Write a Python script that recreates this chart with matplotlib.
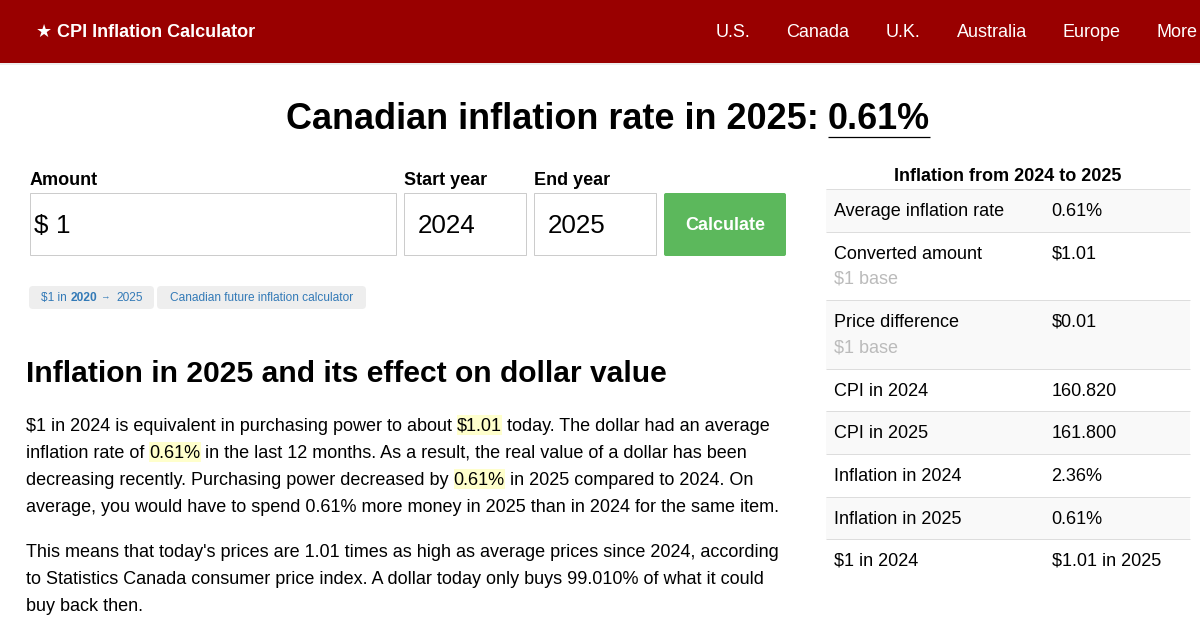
import matplotlib
matplotlib.use("Agg")
import matplotlib.pyplot as plt
from matplotlib.patches import Rectangle, FancyBboxPatch

plt.rcParams["font.family"] = ["Liberation Sans", "DejaVu Sans"]

# Page content
nav_items = ["U.S.", "Canada", "U.K.", "Australia", "Europe", "More"]
nav_x = [716, 786.6, 886, 957, 1063, 1157]

table_labels = ["Average inflation rate", "Converted amount", "Price difference", "CPI in 2024",
                "CPI in 2025", "Inflation in 2024", "Inflation in 2025", "$1 in 2024"]
table_values = ["0.61%", "$1.01", "$0.01", "160.820", "161.800", "2.36%", "0.61%", "$1.01 in 2025"]
table_notes = ["", "$1 base", "$1 base", "", "", "", "", ""]
note_y = [0, 278, 347, 0, 0, 0, 0, 0]
row_edges = [189, 232, 300, 369, 411, 454, 497, 539, 582]

# (text, highlighted) runs per line
para1 = [
    [("$1 in 2024 is equivalent in purchasing power to about ", False), ("$1.01", True), (" today. The dollar had an average", False)],
    [("inflation rate of ", False), ("0.61%", True), (" in the last 12 months. As a result, the real value of a dollar has been", False)],
    [("decreasing recently. Purchasing power decreased by ", False), ("0.61%", True), (" in 2025 compared to 2024. On", False)],
    [("average, you would have to spend 0.61% more money in 2025 than in 2024 for the same item.", False)],
]
para2 = [
    "This means that today's prices are 1.01 times as high as average prices since 2024, according",
    "to Statistics Canada consumer price index. A dollar today only buys 99.010% of what it could",
    "buy back then.",
]

fig = plt.figure(figsize=(12, 6.3), dpi=100)
ax = fig.add_axes([0, 0, 1, 1])
ax.set_xlim(0, 1200)
ax.set_ylim(630, 0)
ax.axis("off")
renderer = fig.canvas.get_renderer()


def px(size):
    return size * 0.72


def label(x, y, s, size=18, weight="normal", color="#000000", ha="left"):
    return ax.text(x, y - 0.8, s, fontsize=px(size), fontweight=weight, color=color, ha=ha, va="center_baseline", zorder=3)


def draw_runs(x, y, runs, size=18, weight="normal", color="#000000"):
    for s, hl in runs:
        t = label(x, y, s, size, weight, color)
        w = t.get_window_extent(renderer).width
        if hl:
            ax.add_patch(Rectangle((x, y - 10.5), w, 20, fc="#ffffcc", ec="none", zorder=1))
        x += w
    return x


def box(x, y, w, h, fc="white", ec="#cccccc", lw=0.72):
    ax.add_patch(Rectangle((x, y), w, h, fc=fc, ec=ec, lw=lw))


def pill(x, y, w, h, fc="#eeeeee", r=4):
    ax.add_patch(FancyBboxPatch((x + r, y + r), w - 2 * r, h - 2 * r, boxstyle=f"round,pad={r},rounding_size={r}", fc=fc, ec="none"))


# Header bar
ax.add_patch(Rectangle((0, 0), 1200, 63, fc="#990000", ec="none"))
ax.add_patch(Rectangle((0, 63), 1200, 2, fc="#eeeeee", ec="none"))
label(36, 31, "★", 18, "bold", "white")
label(57, 31, "CPI Inflation Calculator", 18, "bold", "white")
for x, s in zip(nav_x, nav_items):
    label(x, 31, s, 18, "normal", "white")

# Title
label(286, 116.5, "Canadian inflation rate in 2025:", 36, "bold")
label(828, 116.5, "0.61%", 36, "bold")
ax.plot([828, 930], [137.4, 137.4], color="#000000", lw=0.9, solid_capstyle="butt")

# Form
label(30, 179, "Amount", 18, "bold")
label(404, 179, "Start year", 18, "bold")
label(534, 179, "End year", 18, "bold")
box(30, 193, 366, 62)
box(404, 193, 122, 62)
box(534, 193, 122, 62)
label(34, 224, "$", 26)
label(55.5, 224, "1", 26)
label(418, 224, "2024", 26)
label(548, 224, "2025", 26)
pill(664, 193, 122, 63, fc="#5cb85c", r=2)
label(725, 224, "Calculate", 18, "bold", "white", ha="center")

# Pills
pill(29, 286, 125, 23)
pill(157, 286, 209, 23)
label(41, 297, "$1 in", 11.9, color="#337ab7")
label(70.5, 297, "2020", 11.9, "bold", "#337ab7")
label(101, 297, "→", 9.5, color="#337ab7")
label(116, 297, "2025", 11.9, color="#337ab7")
label(169.5, 297, "Canadian future inflation calculator", 11.9, color="#337ab7")

# Article
label(26, 372, "Inflation in 2025 and its effect on dollar value", 30, "bold")
y = 425
for runs in para1:
    draw_runs(26, y, runs)
    y += 27
y = 551.5
for line in para2:
    label(26, y, line)
    y += 27

# Sidebar table
label(1008, 175, "Inflation from 2024 to 2025", 18, "bold", ha="center")
for i in range(len(table_labels)):
    top, bottom = row_edges[i], row_edges[i + 1]
    if i % 2 == 0 and i < 7:
        ax.add_patch(Rectangle((826, top), 364, bottom - top, fc="#f9f9f9", ec="none"))
    ax.plot([826, 1190], [top - 0.1, top - 0.1], color="#dddddd", lw=0.72, solid_capstyle="butt")
    y = top + 21
    label(834, y, table_labels[i])
    label(1051.6, y, table_values[i])
    if table_notes[i]:
        label(834, note_y[i], table_notes[i], color="#bbbbbb")

fig.savefig("out.png", dpi=100)
